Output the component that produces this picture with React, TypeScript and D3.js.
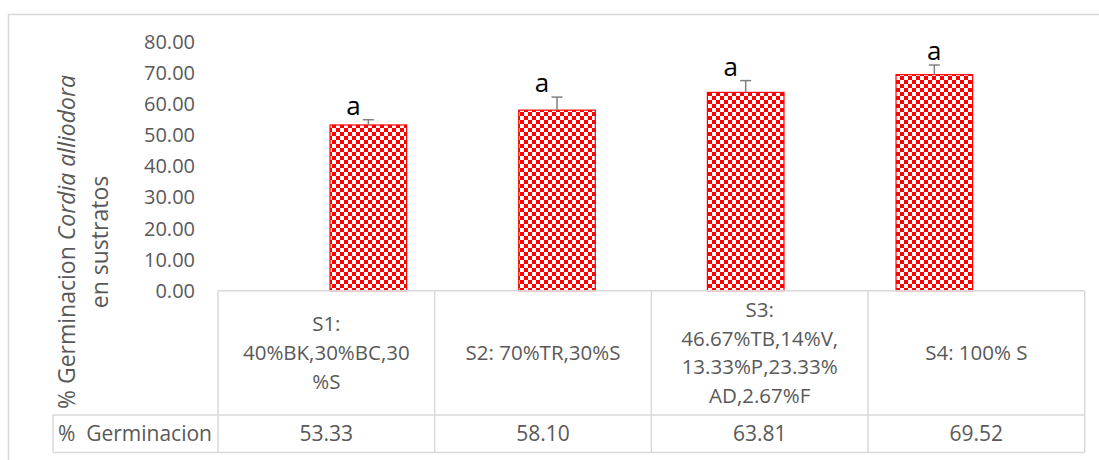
import React from "react";
import * as d3 from "d3";

const categories = ["S1", "S2", "S3", "S4"];
const categoryLines: string[][] = [
  ["S1:", "40%BK,30%BC,30", "%S"],
  ["S2: 70%TR,30%S"],
  ["S3:", "46.67%TB,14%V,", "13.33%P,23.33%", "AD,2.67%F"],
  ["S4: 100% S"],
];
const germinacion = [53.33, 58.1, 63.81, 69.52];
const errorPlus = [1.7, 4.2, 3.8, 3.1];
const letters = ["a", "a", "a", "a"];
const yTicks = [0, 10, 20, 30, 40, 50, 60, 70, 80];
const rowHeader = ["%", "Germinacion"];

const W = 1099;
const H = 460;
const FONT = "'Open Sans', 'DejaVu Sans', sans-serif";
const TXT = "#595959";
const GRID = "#d9d9d9";

export default function App() {
  const tableLeft = 218;
  const tableRight = 1084.7;
  const rowHeadLeft = 53;
  const tableTop = 290.7;
  const rowSplit = 415;
  const tableBottom = 452.5;

  const x = d3.scaleBand<string>().domain(categories).range([tableLeft, tableRight]).padding(0.594);
  const cols = d3.scaleBand<string>().domain(categories).range([tableLeft, tableRight]).padding(0);
  const y = d3.scaleLinear().domain([0, 80]).range([tableTop, 42.1]);
  const fmt = d3.format(".2f");

  return (
    <svg
      width={W}
      height={H}
      style={{ position: "absolute", left: 0, top: 0, background: "#fff" }}
      fontFamily={FONT}
    >
      <defs>
        <pattern id="checker" width={8} height={8} patternUnits="userSpaceOnUse">
          <rect width={8} height={8} fill="#ffffff" />
          <rect x={0} y={0} width={4} height={4} fill="#ff0000" />
          <rect x={4} y={4} width={4} height={4} fill="#ff0000" />
        </pattern>
      </defs>
      <rect x={8.5} y={14.5} width={1200} height={600} fill="#fff" stroke={GRID} strokeWidth={1.5} />

      {/* y-axis title */}
      <text
        transform={`translate(75,242) rotate(-90)`}
        textAnchor="middle"
        fontSize={23}
        fill={TXT}
      >
        % Germinacion <tspan fontStyle="italic">Cordia alliodora</tspan>
      </text>
      <text transform={`translate(108,242) rotate(-90)`} textAnchor="middle" fontSize={23} fill={TXT}>
        en sustratos
      </text>

      {/* y tick labels */}
      {yTicks.map((t) => (
        <text key={t} x={195} y={y(t)} dy="0.35em" textAnchor="end" fontSize={20} fill={TXT}>
          {fmt(t)}
        </text>
      ))}

      {/* bars */}
      {categories.map((c, i) => (
        <rect
          key={c}
          x={x(c)!}
          y={y(germinacion[i])}
          width={x.bandwidth()}
          height={y(0) - y(germinacion[i])}
          fill="url(#checker)"
          stroke="#ff0000"
          strokeWidth={1.2}
        />
      ))}

      {/* error bars */}
      {categories.map((c, i) => {
        const cx = x(c)! + x.bandwidth() / 2;
        const top = y(germinacion[i] + errorPlus[i]);
        return (
          <g key={c} stroke="#7f7f7f" strokeWidth={1.5}>
            <line x1={cx} x2={cx} y1={y(germinacion[i])} y2={top} />
            <line x1={cx - 5.5} x2={cx + 5.5} y1={top} y2={top} />
          </g>
        );
      })}

      {/* letters */}
      {categories.map((c, i) => {
        const cx = x(c)! + x.bandwidth() / 2 + (i < 3 ? -15 : 0);
        const top = y(germinacion[i] + errorPlus[i]);
        return (
          <text key={c} x={cx} y={top - 5} textAnchor="middle" fontSize={26} fill="#000">
            {letters[i]}
          </text>
        );
      })}

      {/* data table */}
      <g stroke={GRID} strokeWidth={1.5} fill="none">
        <line x1={tableLeft} x2={tableRight} y1={tableTop} y2={tableTop} />
        <line x1={rowHeadLeft} x2={tableRight} y1={rowSplit} y2={rowSplit} />
        <line x1={rowHeadLeft} x2={tableRight} y1={tableBottom} y2={tableBottom} />
        <line x1={rowHeadLeft} x2={rowHeadLeft} y1={rowSplit} y2={tableBottom} />
        {categories.map((c) => (
          <line key={c} x1={cols(c)!} x2={cols(c)!} y1={tableTop} y2={tableBottom} />
        ))}
        <line x1={tableRight} x2={tableRight} y1={tableTop} y2={tableBottom} />
      </g>

      {categories.map((c, i) => {
        const cx = cols(c)! + cols.bandwidth() / 2;
        const lines = categoryLines[i];
        const lh = 28.7;
        const mid = (tableTop + rowSplit) / 2;
        const start = mid - ((lines.length - 1) * lh) / 2;
        return (
          <g key={c}>
            {lines.map((l, j) => (
              <text key={j} x={cx} y={start + j * lh} dy="0.35em" textAnchor="middle" fontSize={20.5} fill={TXT}>
                {l}
              </text>
            ))}
            <text x={cx} y={(rowSplit + tableBottom) / 2} dy="0.35em" textAnchor="middle" fontSize={21} fill={TXT}>
              {fmt(germinacion[i])}
            </text>
          </g>
        );
      })}

      <text x={58} y={(rowSplit + tableBottom) / 2} dy="0.35em" fontSize={21} fill={TXT}>
        {rowHeader[0]}
      </text>
      <text x={212} y={(rowSplit + tableBottom) / 2} dy="0.35em" textAnchor="end" fontSize={21} fill={TXT}>
        {rowHeader[1]}
      </text>
    </svg>
  );
}
